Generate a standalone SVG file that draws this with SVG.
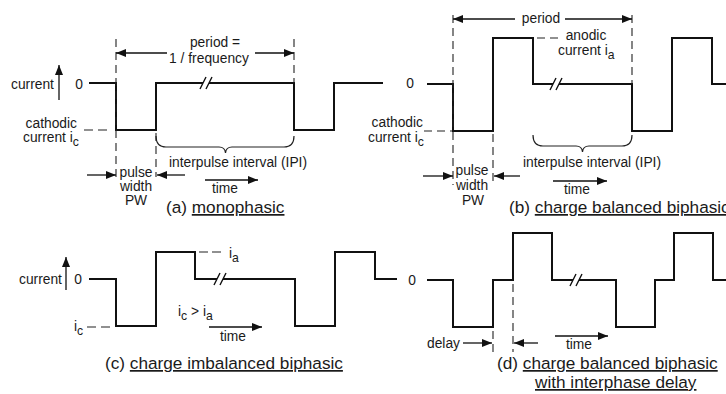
<svg xmlns="http://www.w3.org/2000/svg" width="726" height="394" viewBox="0 0 726 394">
<defs>
<marker id="ah" viewBox="0 0 10 8" refX="10" refY="4" markerWidth="11" markerHeight="8" markerUnits="userSpaceOnUse" orient="auto"><path d="M0,0 L10,4 L0,8 z" fill="#111"/></marker>
<style>
.w{fill:none;stroke:#111;stroke-width:2;stroke-linejoin:miter;stroke-linecap:butt}
.s{fill:none;stroke:#111;stroke-width:1.4}
.d{fill:none;stroke:#222;stroke-width:1.1;stroke-dasharray:8,5}
.a{fill:none;stroke:#111;stroke-width:1.3;marker-end:url(#ah)}
.b{fill:none;stroke:#222;stroke-width:1.2}
text{font-family:"Liberation Sans",Arial,Helvetica,sans-serif;font-size:13.8px;fill:#1a1a1a}
.cap{font-size:17.2px}
.u{text-decoration:underline}
.m{text-anchor:middle}
.e{text-anchor:end}
.sub{font-size:12.2px}
</style>
</defs>
<rect width="726" height="394" fill="#fff"/>

<g id="panel-a">
  <text x="11" y="89">current</text>
  <text x="79" y="89" class="m">0</text>
  <text x="77" y="128" class="e">cathodic</text>
  <text x="23" y="142">current i<tspan class="sub" dy="4">c</tspan></text>
  <text x="215" y="47" class="m">period =</text>
  <text x="209" y="63" class="m">1 / frequency</text>
  <text x="238" y="167" class="m">interpulse interval (IPI)</text>
  <text x="136" y="177" class="m">pulse</text>
  <text x="136" y="191" class="m">width</text>
  <text x="136" y="205" class="m">PW</text>
  <text x="225" y="193" class="m">time</text>
  <text x="166" y="213" class="cap">(a) <tspan class="u">monophasic</tspan></text>
</g>

<g id="panel-b">
  <text x="410" y="88" class="m">0</text>
  <text x="423" y="127" class="e">cathodic</text>
  <text x="368" y="142">current i<tspan class="sub" dy="4">c</tspan></text>
  <text x="541" y="23" class="m">period</text>
  <text x="586" y="40" class="m">anodic</text>
  <text x="558" y="55">current i<tspan class="sub" dy="4">a</tspan></text>
  <text x="592" y="167" class="m">interpulse interval (IPI)</text>
  <text x="472" y="175" class="m">pulse</text>
  <text x="472" y="190" class="m">width</text>
  <text x="473" y="205" class="m">PW</text>
  <text x="577" y="194" class="m">time</text>
  <text x="509" y="213" class="cap">(b) <tspan class="u">charge balanced biphasic</tspan></text>
</g>

<g id="panel-c">
  <text x="19" y="284">current</text>
  <text x="78" y="284" class="m">0</text>
  <text x="74" y="331">i<tspan class="sub" dy="4">c</tspan></text>
  <text x="229" y="258">i<tspan class="sub" dy="4">a</tspan></text>
  <text x="178" y="316">i<tspan class="sub" dy="4">c</tspan><tspan dy="-4"> &gt; i</tspan><tspan class="sub" dy="4">a</tspan></text>
  <text x="233" y="341" class="m">time</text>
  <text x="105" y="369" class="cap">(c) <tspan class="u">charge imbalanced biphasic</tspan></text>
</g>

<g id="panel-d">
  <text x="412" y="285" class="m">0</text>
  <text x="427" y="348">delay</text>
  <text x="579" y="349" class="m">time</text>
  <text x="497" y="369" class="cap">(d) <tspan class="u">charge balanced biphasic</tspan></text>
  <text x="535" y="388" class="cap"><tspan class="u">with interphase delay</tspan></text>
</g>

<g id="connectors">
  <path class="w" d="M89,83 H116 V130 H156 V83 H203 M209,83 H294 V130 H334 V83 H383"/>
  <path class="s" d="M200,89 L206,77 M206,89 L212,77"/>
  <path class="w" d="M427,84 H453 V131 H493 V38 H533 V84 H553 M559,84 H632 V131 H672 V38 H712 V84 H726"/>
  <path class="s" d="M550,90 L556,78 M556,90 L562,78"/>
  <path class="w" d="M89,279 H116 V326 H156 V252 H195 V279 H217 M223,279 H295 V326 H335 V252 H375 V279 H397"/>
  <path class="s" d="M214,285 L220,273 M220,285 L226,273"/>
  <path class="w" d="M427,280 H453 V327 H493 V280 H513 V233 H552 V280 H573 M579,280 H616 V327 H655 V280 H674 V233 H713 V280 H726"/>
  <path class="s" d="M570,286 L576,274 M576,286 L582,274"/>

  <line class="a" x1="59" y1="100" x2="59" y2="65"/>
  <line class="a" x1="66" y1="290" x2="66" y2="257"/>

  <line class="d" x1="84" y1="130" x2="107" y2="130" style="stroke-dasharray:9,5"/>
  <line class="d" x1="424" y1="131" x2="452" y2="131"/>
  <line class="d" x1="537" y1="38" x2="562" y2="38"/>
  <line class="d" x1="87" y1="327" x2="110" y2="327" style="stroke-dasharray:9,5"/>
  <line class="d" x1="199" y1="252" x2="225" y2="252" style="stroke-dasharray:9,4"/>

  <line class="d" x1="116" y1="39" x2="116" y2="177"/>
  <line class="d" x1="156" y1="133" x2="156" y2="177"/>
  <line class="d" x1="294" y1="39" x2="294" y2="83"/>
  <line class="d" x1="453" y1="15" x2="453" y2="185"/>
  <line class="d" x1="493" y1="134" x2="493" y2="185"/>
  <line class="d" x1="632" y1="15" x2="632" y2="84"/>
  <line class="d" x1="493" y1="331" x2="493" y2="352"/>
  <line class="d" x1="513" y1="284" x2="513" y2="352"/>

  <line class="a" x1="167" y1="53" x2="116" y2="53"/>
  <line class="a" x1="255" y1="53" x2="294" y2="53"/>
  <line class="a" x1="515" y1="19" x2="453" y2="19"/>
  <line class="a" x1="565" y1="19" x2="632" y2="19"/>

  <path class="b" d="M156,136 Q156,147 166,147 L219,147 Q225,147 225.5,153 Q226,147 232,147 L284,147 Q294,147 294,136"/>
  <path class="b" d="M533,135 Q533,146 543,146 L576,146 Q582,146 582.5,152 Q583,146 589,146 L622,146 Q632,146 632,135"/>

  <line class="a" x1="87" y1="175" x2="116" y2="175"/>
  <line class="a" x1="185" y1="175" x2="157" y2="175"/>
  <line class="a" x1="423" y1="176" x2="453" y2="176"/>
  <line class="a" x1="520" y1="176" x2="494" y2="176"/>
  <line class="a" x1="463" y1="343" x2="492" y2="343"/>
  <line class="a" x1="538" y1="343" x2="514" y2="343"/>

  <line class="a" x1="205" y1="180" x2="258" y2="180"/>
  <line class="a" x1="553" y1="181" x2="607" y2="181"/>
  <line class="a" x1="209" y1="327" x2="262" y2="327"/>
  <line class="a" x1="555" y1="336" x2="608" y2="336"/>
</g>
</svg>
